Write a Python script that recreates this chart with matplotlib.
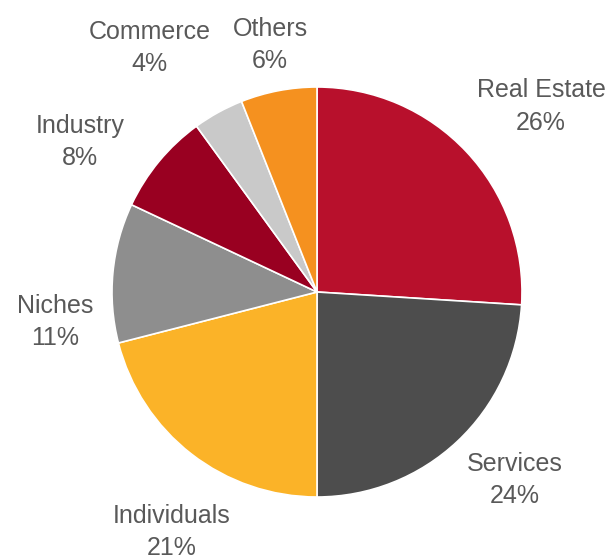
import matplotlib.pyplot as plt

plt.rcParams['font.family'] = ['Liberation Sans', 'DejaVu Sans']

# Portfolio breakdown by segment
segments = ["Real Estate", "Services", "Individuals", "Niches",
            "Industry", "Commerce", "Others"]
shares = [26, 24, 21, 11, 8, 4, 6]
colors = ["#B8102C", "#4D4D4D", "#FBB328", "#8E8E8E",
          "#990021", "#C9C9C9", "#F5911F"]

# label centres, in pie radius units from the centre
label_xy = [(1.093, 0.905), (0.966, -0.917), (-0.707, -1.171),
            (-1.278, -0.146), (-1.156, 0.732), (-0.815, 1.19),
            (-0.229, 1.205)]

fig = plt.figure(figsize=(6.14, 5.6), dpi=100)
ax = fig.add_axes([0, 0, 1, 1])

ax.pie(shares, colors=colors, startangle=90, counterclock=False,
       radius=1.0, center=(0, 0),
       wedgeprops=dict(edgecolor="white", linewidth=1.2))

for name, val, (x, y) in zip(segments, shares, label_xy):
    ax.text(x, y, f"{name}\n{val}%", ha="center", va="center",
            fontsize=18, color="#595959", linespacing=1.45)

ax.set_aspect("auto")
ax.set_xlim(-317 / 205, (614 - 317) / 205)
ax.set_ylim(-(560 - 292) / 205, 292 / 205)
ax.axis("off")

fig.savefig("out.png", dpi=100, facecolor="white")
